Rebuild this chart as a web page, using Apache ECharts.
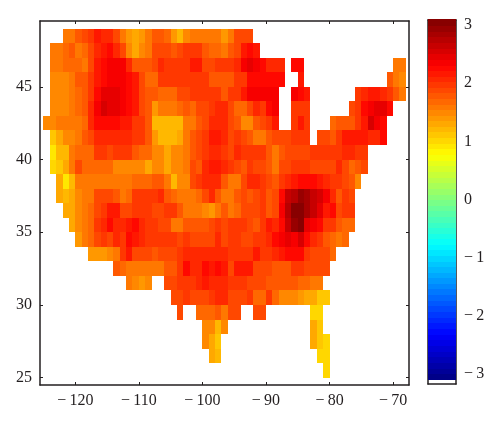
<!DOCTYPE html>
<html>
<head>
<meta charset="utf-8">
<style>
  html, body { margin: 0; padding: 0; background: #fff; }
  #chart { width: 500px; height: 437px; filter: blur(0.45px); }
</style>
<script src="https://cdn.jsdelivr.net/npm/echarts@6/dist/echarts.min.js"></script>
</head>
<body>
<div id="chart"></div>
<script>
// each row: latitude of the lower cell edge, then [first longitude, values...] runs
const lat48 = [[-122, [1.6,1.6,1.75,1.9,2.0,2.2,2.05,2.1,1.9,1.6,1.4,1.35,1.4,1.6,1.75,1.75,1.7,1.4,1.25,1.5,1.6,1.6,1.55,1.55,1.6,1.4,1.6,1.85,1.85,1.85]]];
const lat47 = [[-124, [1.55,1.55,1.7,1.75,1.55,1.65,1.85,2.05,2.15,2.3,2.05,1.85,1.5,1.35,1.5,1.6,1.9,1.85,1.85,1.75,1.9,1.95,1.95,1.95,1.8,1.7,1.7,1.6,1.75,1.85,2.2,2.3,2.2]]];
const lat46 = [[-124, [1.55,1.55,1.7,1.7,1.7,1.6,1.85,2.2,2.25,2.35,2.4,2.35,2.1,1.75,1.8,1.75,1.85,2.1,2.0,2.0,2.0,2.0,2.15,2.15,1.85,1.85,2.0,2.0,1.95,2.1,2.35,2.5,2.35,2.25,2.1,2.1,2.1]], [-86, [2.3,2.3]], [-70, [1.6,1.6]]];
const lat45 = [[-124, [1.5,1.5,1.5,1.55,1.75,1.75,2.0,2.2,2.3,2.35,2.35,2.35,2.3,2.15,1.85,1.7,1.7,1.95,2.0,2.0,2.0,2.0,1.95,1.95,2.0,1.75,1.75,1.75,1.75,1.95,2.0,2.25,2.3,2.3,2.3,2.25,2.3]], [-85, [2.2]], [-71, [1.75,1.55,1.45]]];
const lat44 = [[-124, [1.5,1.5,1.45,1.55,1.7,1.8,2.0,2.3,2.5,2.5,2.5,2.4,2.25,2.15,1.85,1.75,1.75,1.7,1.7,1.7,1.85,1.85,1.95,1.95,1.95,1.95,1.95,1.75,1.95,1.95,2.2,2.35,2.35,2.35,2.35,2.35]], [-86, [2.35,2.3,2.15]], [-76, [1.95,2.05,2.2,2.2,2.05,1.95,1.75,1.55]]];
const lat43 = [[-124, [1.5,1.5,1.5,1.55,1.7,1.8,2.1,2.35,2.6,2.5,2.5,2.4,2.25,2.15,1.9,1.75,1.4,1.55,1.55,1.6,1.7,1.75,1.65,1.85,1.9,2.0,2.1,2.1,1.85,1.65,1.65,1.9,2.1,2.0,2.3,2.35]], [-86, [2.0,1.95,2.0]], [-77, [1.85,2.0,2.25,2.4,2.5,2.45,2.3]]];
const lat42 = [[-125, [1.45,1.5,1.55,1.55,1.6,1.6,1.7,2.05,2.3,2.3,2.3,2.3,2.15,2.2,2.0,2.0,1.8,1.25,1.25,1.25,1.25,1.25,1.6,1.55,1.8,1.85,2.05,2.05,2.05,1.85,1.75,1.5,1.5,1.75,1.85,1.95,2.15]], [-86, [2.0,2.15,2.0]], [-80, [1.7,1.8,1.8,1.8,2.0,2.2,2.6,2.4,2.25]]];
const lat41 = [[-124, [1.1,1.3,1.5,1.5,1.55,1.75,1.85,2.05,2.1,2.1,2.1,2.1,2.05,1.95,1.95,1.8,1.4,1.25,1.25,1.25,1.3,1.6,1.75,1.85,1.95,2.2,2.2,2.05,1.9,2.0,1.9,1.75,1.55,1.55,1.75,1.85,1.85,1.85,1.95,1.95,1.95]], [-82, [1.9,1.9,1.8,1.95,2.15,2.2,2.2,2.15,2.05,2.05,2.3]]];
const lat40 = [[-124, [0.95,1.2,1.25,1.55,1.65,1.65,1.65,1.95,2.0,1.85,1.95,2.0,2.0,1.8,1.65,1.65,1.5,1.5,1.3,1.5,1.5,1.55,1.75,1.85,1.95,2.05,2.05,2.0,1.9,2.05,2.0,2.0,1.95,1.95,1.8,1.55,1.75,1.85,1.9,1.9,1.9,1.95,2.0,2.0,2.0,2.0,2.05,2.05,2.0,1.95]]];
const lat39 = [[-124, [1.05,1.1,1.3,1.55,1.85,1.65,1.65,1.65,1.65,1.65,1.45,1.45,1.45,1.5,1.5,1.35,1.45,1.45,1.3,1.45,1.5,1.55,1.85,1.75,2.05,2.2,2.2,2.1,2.0,1.85,1.75,1.95,1.85,1.9,1.75,1.55,1.85,1.85,1.95,1.95,1.95,1.9,1.9,1.85,1.85,2.05,1.9,1.65,1.8,1.9]]];
const lat38 = [[-123, [1.3,0.95,1.2,1.55,1.55,1.55,1.55,1.55,1.55,1.55,1.55,1.55,1.7,1.65,1.65,1.8,1.8,1.55,1.2,1.5,1.5,1.85,1.95,2.05,2.05,2.05,1.75,1.6,1.6,1.85,2.05,2.05,1.95,1.9,1.75,1.95,2.1,2.2,2.25,2.3,2.25,2.15,2.05,2.0,1.95,1.85,1.75,1.5]]];
const lat37 = [[-123, [1.3,1.2,1.3,1.5,1.6,1.6,1.85,1.9,1.85,1.75,1.55,1.7,1.95,2.0,2.0,2.0,2.05,1.75,1.65,1.6,1.6,1.6,1.7,1.9,2.05,1.8,1.6,1.55,1.75,1.85,1.8,1.85,1.95,1.75,1.9,2.3,2.65,2.75,2.9,2.8,2.65,2.6,2.4,2.05,1.8,1.95,1.85]]];
const lat36 = [[-122, [1.3,1.35,1.5,1.6,1.65,1.85,2.0,2.15,2.2,1.85,1.85,2.0,2.0,1.95,1.85,1.85,1.95,2.0,1.75,1.55,1.55,1.55,1.5,1.4,1.6,1.8,1.6,1.7,1.85,1.9,1.9,1.95,1.75,1.9,2.35,2.75,3.05,3.1,2.8,2.65,2.45,2.2,2.25,1.9,1.95,2.0]]];
const lat35 = [[-121, [1.35,1.5,1.55,1.65,1.95,2.05,2.3,2.05,2.05,2.15,2.25,2.05,2.0,1.95,1.9,1.9,1.55,1.6,1.75,1.75,1.75,1.8,1.85,1.95,1.85,1.95,2.0,2.0,1.9,1.75,2.0,2.15,2.1,2.3,2.7,2.95,3.05,2.5,2.4,2.25,2.0,1.95,1.75,1.7,1.7]]];
const lat34 = [[-120, [1.4,1.55,1.65,1.85,1.95,1.9,2.05,1.95,2.3,2.2,2.05,2.0,2.0,2.0,2.0,1.95,1.9,2.0,1.85,1.85,1.85,1.9,2.05,1.9,2.0,1.95,1.9,1.9,1.95,1.95,2.1,2.25,2.4,2.45,2.4,2.55,2.25,2.05,1.95,1.8,1.65,1.6,1.65]]];
const lat33 = [[-118, [1.4,1.4,1.4,1.45,1.6,1.95,2.2,1.9,1.85,1.85,1.75,1.85,1.9,1.9,2.0,2.05,2.05,2.05,2.05,2.05,2.1,2.05,1.95,1.95,1.95,2.0,2.15,1.95,2.0,2.05,2.2,2.25,2.3,2.25,2.0,1.9,1.85,1.85,1.7]]];
const lat32 = [[-114, [1.75,1.65,1.6,1.6,1.6,1.6,1.6,1.6,1.75,1.8,1.95,2.25,2.1,2.1,2.25,2.15,2.3,2.2,1.9,2.15,2.15,2.15,1.85,1.9,1.9,1.75,1.75,1.75,2.0,2.0,1.85,1.85,1.85,1.85]]];
const lat31 = [[-112, [1.6,1.45,1.4,1.5]], [-106, [1.85,1.9,2.0,2.0,2.0,2.05,2.15,2.05,2.1,2.1,2.0,2.0,1.95,1.9,1.9,1.85,1.8,1.75,1.75,1.75,1.75,1.7,1.65,1.6,1.55]]];
const lat30 = [[-105, [1.85,1.85,2.0,1.85,1.85,1.9,1.95,2.05,2.05,1.85,1.85,1.85,1.95,1.7,1.7,2.0,1.7,1.5,1.5,1.5,1.4,1.3,1.3,1.15,1.15]]];
const lat29 = [[-104, [1.9]], [-101, [1.7,1.7,1.7,1.75,1.6,1.85,1.85]], [-92, [1.9,1.85]], [-83, [1.05,1.05]]];
const lat28 = [[-100, [1.45,1.45,1.2,1.45]], [-83, [1.35,1.1]]];
const lat27 = [[-100, [1.45,1.3,1.15]], [-83, [1.35,1.15,1.0]]];
const lat26 = [[-99, [1.35,1.2]], [-82, [1.05,1.0]]];
const lat25 = [[-81, [1.0]]];

const latRows = { 48: lat48, 47: lat47, 46: lat46, 45: lat45, 44: lat44, 43: lat43, 42: lat42, 41: lat41, 40: lat40, 39: lat39, 38: lat38, 37: lat37, 36: lat36, 35: lat35, 34: lat34, 33: lat33, 32: lat32, 31: lat31, 30: lat30, 29: lat29, 28: lat28, 27: lat27, 26: lat26, 25: lat25 };

const lonTicks = [-120, -110, -100, -90, -80, -70];
const latTicks = [25, 30, 35, 40, 45];
const barTicks = [-3, -2, -1, 0, 1, 2, 3];
const barLevels = [-3.04,-2.94,-2.85,-2.75,-2.65,-2.56,-2.46,-2.36,-2.27,-2.17,-2.07,-1.98,-1.88,-1.78,-1.69,-1.59,-1.49,-1.40,-1.30,-1.21,-1.11,-1.01,-0.92,-0.82,-0.72,-0.63,-0.53,-0.43,-0.34,-0.24,-0.14,-0.05,0.05,0.14,0.24,0.34,0.43,0.53,0.63,0.72,0.82,0.92,1.01,1.11,1.21,1.30,1.40,1.49,1.59,1.69,1.78,1.88,1.98,2.07,2.17,2.27,2.36,2.46,2.56,2.65,2.75,2.85,2.94,3.04];
const barStep = 0.0964;
const colorMin = -3.086;
const colorMax = 3.086;
const jetStops = [[0, 0, 128], [0, 0, 255], [0, 128, 255], [0, 255, 255], [128, 255, 128], [255, 255, 0], [255, 128, 0], [255, 0, 0], [128, 0, 0]];

// 64 level jet, same bands as the colour bar
const jetColor = v => {
  const t = Math.max(0, Math.min(63, Math.floor((v - colorMin) / (colorMax - colorMin) * 64)));
  const pos = (t + 0.5) / 64 * (jetStops.length - 1);
  const i = Math.floor(pos);
  const c = jetStops[i].map((s, k) => Math.round(s + (jetStops[i + 1][k] - s) * (pos - i)));
  return `rgb(${c.join(',')})`;
};

const cells = [];
Object.keys(latRows).forEach(lat => {
  latRows[lat].forEach(([start, values]) => {
    values.forEach((v, i) => cells.push([start + i, +lat, v]));
  });
});

const fontFamily = '"Liberation Serif", "Times New Roman", serif';
const inkColor = '#231f20';
const minus = v => String(v).replace('-', '\u2212\u2009');

const axisBase = {
  type: 'value',
  splitLine: { show: false },
  axisLine: { show: true, onZero: false, lineStyle: { color: inkColor, width: 1.5 } }
};

const chart = echarts.init(document.getElementById('chart'));
chart.setOption({
  animation: false,
  backgroundColor: '#fff',
  grid: [
    { left: 40, top: 21, width: 369, height: 364 },
    { left: 428, top: 20, width: 28, height: 364 }
  ],
  xAxis: [
    { ...axisBase, gridIndex: 0, position: 'bottom', min: -125.55, max: -67.5,
      axisTick: { inside: true, length: 3, customValues: lonTicks, lineStyle: { color: inkColor } },
      axisLabel: { customValues: lonTicks, formatter: minus, color: inkColor, fontFamily, fontSize: 16, margin: 8 } },
    { ...axisBase, gridIndex: 0, position: 'top', min: -125.55, max: -67.5,
      axisTick: { inside: true, length: 3, customValues: lonTicks, lineStyle: { color: inkColor } },
      axisLabel: { show: false } },
    { ...axisBase, gridIndex: 1, position: 'bottom', min: 0, max: 1,
      axisTick: { show: false }, axisLabel: { show: false } },
    { ...axisBase, gridIndex: 1, position: 'top', min: 0, max: 1,
      axisTick: { show: false }, axisLabel: { show: false } }
  ],
  yAxis: [
    { ...axisBase, gridIndex: 0, position: 'left', min: 24.5, max: 49.52,
      axisTick: { inside: true, length: 3, customValues: latTicks, lineStyle: { color: inkColor } },
      axisLabel: { customValues: latTicks, color: inkColor, fontFamily, fontSize: 16, margin: 8 } },
    { ...axisBase, gridIndex: 0, position: 'right', min: 24.5, max: 49.52,
      axisTick: { inside: true, length: 3, customValues: latTicks, lineStyle: { color: inkColor } },
      axisLabel: { show: false } },
    { ...axisBase, gridIndex: 1, position: 'left', min: -3.172, max: 3.086,
      axisTick: { inside: true, length: 4, customValues: barTicks, lineStyle: { color: inkColor } },
      axisLabel: { show: false } },
    { ...axisBase, gridIndex: 1, position: 'right', min: -3.172, max: 3.086,
      axisTick: { inside: true, length: 4, customValues: barTicks, lineStyle: { color: inkColor } },
      axisLabel: { customValues: barTicks, formatter: minus, color: inkColor, fontFamily, fontSize: 16, margin: 8 } }
  ],
  series: [
    {
      type: 'custom',
      xAxisIndex: 0,
      yAxisIndex: 0,
      data: cells,
      silent: true,
      z: 1,
      renderItem: (params, api) => {
        const a = api.coord([api.value(0), api.value(1)]);
        const b = api.coord([api.value(0) + 1, api.value(1) + 1]);
        const x = Math.round(a[0]);
        const y = Math.round(b[1]);
        return {
          type: 'rect',
          shape: { x, y, width: Math.round(b[0]) - x, height: Math.round(a[1]) - y },
          style: { fill: jetColor(api.value(2)) }
        };
      }
    },
    {
      type: 'custom',
      xAxisIndex: 2,
      yAxisIndex: 2,
      data: barLevels.map(v => [0, v]),
      silent: true,
      z: 1,
      renderItem: (params, api) => {
        const a = api.coord([0, api.value(1) - barStep / 2]);
        const b = api.coord([1, api.value(1) + barStep / 2]);
        const y = Math.floor(b[1]);
        return {
          type: 'rect',
          shape: { x: a[0], y, width: b[0] - a[0], height: Math.ceil(a[1]) - y },
          style: { fill: jetColor(api.value(1)) }
        };
      }
    }
  ]
});
</script>
</body>
</html>
